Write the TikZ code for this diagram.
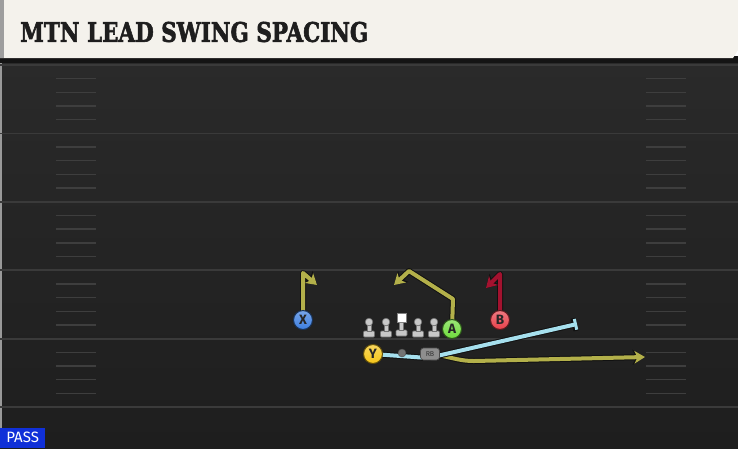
\documentclass[tikz,border=0pt]{standalone}
\usepackage{fontspec}
\usepackage{graphicx}
\usetikzlibrary{arrows.meta}
\newfontfamily\titlefont[BoldFeatures={FakeBold=2.5}]{DejaVu Serif}
\newfontfamily\labelfont{Fira Sans}
\definecolor{headerbg}{HTML}{F4F2EC}
\definecolor{titlecol}{HTML}{1E1E1E}
\definecolor{fieldtop}{HTML}{2A2A2A}
\definecolor{fieldbot}{HTML}{1E1E1E}
\definecolor{yardcol}{HTML}{3A3A3A}
\definecolor{hashcol}{HTML}{3E3E3E}
\definecolor{passblue}{HTML}{1030D8}
\definecolor{xblue}{HTML}{3D7FE0}
\definecolor{agreen}{HTML}{6FDC3C}
\definecolor{yyellow}{HTML}{F5C518}
\definecolor{bred}{HTML}{E8404A}
\definecolor{olive}{HTML}{B3B04A}
\definecolor{routered}{HTML}{A3122F}
\definecolor{routeblue}{HTML}{A6E0EE}
\definecolor{lmgray}{HTML}{C8C8C8}
\definecolor{rbgray}{HTML}{8E8E8E}
\definecolor{edgecol}{HTML}{111111}
\pgfdeclarelayer{bg}\pgfdeclarelayer{routes}\pgfsetlayers{bg,routes,main}
\begin{document}
\begin{tikzpicture}[x=1pt,y=-1pt,
  player/.style={circle, minimum size=19pt, inner sep=0pt, draw=#1!40!black, line width=1pt,
    top color=#1!70!white, bottom color=#1, font=\labelfont\bfseries\fontsize{13.5}{13.5}\selectfont, text=black!85},
  route/.style={draw=#1, line width=4pt, line join=round},
  tipout/.style={preaction={draw=edgecol, line width=6pt, line join=round, -{Stealth[length=12.5pt,width=15pt,inset=3.5pt]}}, -{Stealth[length=10.5pt,width=12.5pt,inset=3pt]}},
  blockout/.style={preaction={draw=edgecol, line width=6pt, line join=round, -{Bar[width=13pt,line width=5pt]}}, -{Bar[width=11pt,line width=3pt]}},
  lmpart/.style={fill=lmgray, draw=black!55, line width=0.6pt},
  rbbox/.style={rounded corners=3pt, fill=rbgray, draw=black!70, line width=0.7pt, minimum width=19pt, minimum height=12pt, inner sep=0pt, font=\labelfont\fontsize{7}{7}\selectfont, text=black!80},
  qbdot/.style={circle, fill=black!55, draw=black!70, minimum size=8pt, inner sep=0pt}
]
\useasboundingbox (0,0) rectangle (738,448);
\begin{pgfonlayer}{bg}
  % field
  \shade[top color=fieldtop, bottom color=fieldbot] (0,60) rectangle (738,448);
  \fill[black!40] (0,60) rectangle (2,448);
  % yard lines and hash marks
  \foreach \i in {0,...,5}{
    \pgfmathsetmacro{\yy}{65+68.4*\i}
    \draw[yardcol, line width=1.8pt] (0,\yy) -- (738,\yy);
  }
  \foreach \i in {0,...,4}{
    \foreach \k in {1,...,4}{
      \pgfmathsetmacro{\hy}{65+68.4*\i+13.68*\k}
      \draw[hashcol, line width=1.4pt] (56,\hy) -- (96,\hy);
      \draw[hashcol, line width=1.4pt] (646,\hy) -- (686,\hy);
    }
  }
  % header
  \fill[black!92] (0,56) rectangle (738,63);
  \fill[headerbg] (0,0) -- (738,0) -- (738,50) -- (733,58) -- (0,58) -- cycle;
  \fill[black!38] (0,0) rectangle (4,58);
\end{pgfonlayer}

\node[anchor=west, inner sep=0pt, text=titlecol] (title) at (20,32)
  {\resizebox{348pt}{20pt}{\titlefont\bfseries MTN LEAD SWING SPACING}};

% linemen
\foreach \cx in {369,386,418,434}{
  \draw[lmpart, rounded corners=1pt] (\cx-5.5,331) rectangle (\cx+5.5,337);
  \draw[lmpart] (\cx-2,325) rectangle (\cx+2,331.3);
  \draw[lmpart] (\cx,322) circle (3.8pt);
}
\draw[lmpart, rounded corners=1pt] (396,330) rectangle (407,336);
\draw[lmpart] (399.5,322) rectangle (403.5,330.3);
\draw[fill=white, draw=black!50, line width=0.6pt] (397,313.5) rectangle (406,322);

% players
\node[player=xblue] (X) at (303,320) {X};
\node[player=agreen] (A) at (452,329) {A};
\node[player=bred] (B) at (500,320) {B};
\node[player=yyellow] (Y) at (373,354) {Y};
\node[qbdot] (QB) at (402,353) {};
\node[rbbox] (RB) at (430,354) {RB};

% route points
\coordinate (xtop) at (303,273);
\coordinate (xend) at (317,285);
\coordinate (abreak) at (453,299);
\coordinate (atop) at (409,271);
\coordinate (aend) at (394,285);
\coordinate (btop) at (500,274);
\coordinate (bend) at (486,288);
\coordinate (ymid) at (428,358);
\coordinate (yend) at (577,324);
\coordinate (rbmid) at (474,361);
\coordinate (rbend) at (645,357);

\begin{pgfonlayer}{routes}
  \draw[route=olive, tipout] (X.center) -- (xtop) -- (xend);
  \draw[route=olive, tipout] (A.center) -- (abreak) -- (atop) -- (aend);
  \draw[route=routered, tipout] (B.center) -- (btop) -- (bend);
  \draw[route=olive, tipout] (RB.center) to[out=-5,in=180] (rbmid) -- (rbend);
  \draw[route=routeblue, blockout] (Y.center) -- (ymid) -- (yend);
\end{pgfonlayer}

\node[fill=passblue, text=white, anchor=south west, minimum width=45pt, minimum height=20pt, inner sep=0pt,
  font=\labelfont\fontsize{15}{15}\selectfont] (pass) at (0,448) {PASS};
\end{tikzpicture}
\end{document}
